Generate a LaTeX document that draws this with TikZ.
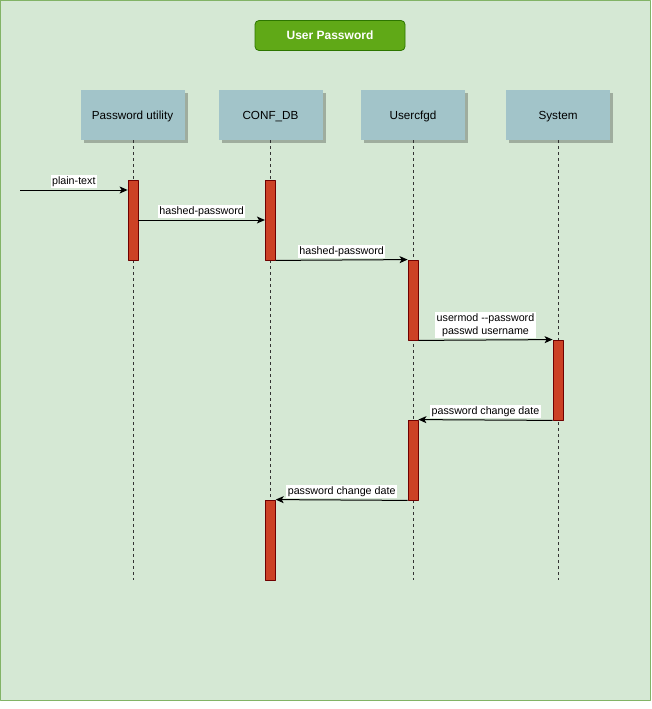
\documentclass[tikz,border=0pt]{standalone}
\usepackage{fontspec}
\setmainfont{Liberation Sans}
\usetikzlibrary{positioning}
\usetikzlibrary{shadows}
\usetikzlibrary{arrows.meta}

\definecolor{bggreen}{HTML}{D5E8D4}
\definecolor{bgborder}{HTML}{82B366}
\definecolor{titlefill}{HTML}{60A917}
\definecolor{titleborder}{HTML}{2D7600}
\definecolor{headfill}{HTML}{A2C4C9}
\definecolor{actfill}{HTML}{CC4125}
\definecolor{actborder}{HTML}{6F0000}

\tikzset{
  titlebox/.style={fill=titlefill, draw=titleborder, line width=0.8pt, rounded corners=4pt,
    minimum width=150pt, minimum height=30pt, inner sep=0pt, text=white,
    font=\fontsize{12}{14}\selectfont\bfseries},
  head/.style={fill=headfill, minimum width=104pt, minimum height=50pt, inner sep=0pt,
    text height=10.2pt, text depth=0.8pt, font=\fontsize{11.7}{14}\selectfont,
    drop shadow={shadow xshift=3pt, shadow yshift=-3pt, fill=black, opacity=0.25}},
  lifeline/.style={dash pattern=on 3pt off 3pt, line width=0.9pt, black!80},
  act/.style={fill=actfill, draw=actborder, line width=0.8pt, minimum width=10pt,
    minimum height=80pt, inner sep=0pt},
  msg/.style={-{Stealth[length=8pt, width=7pt, inset=2pt]}, line width=1pt},
  msglabel/.style={fill=white, inner sep=1.5pt, above=1.5pt, align=center,
    font=\fontsize{10.7}{13}\selectfont}
}

\begin{document}
\begin{tikzpicture}[x=1pt, y=-1pt, line join=round]
  \useasboundingbox (0,0) rectangle (651,709);
  %--- Frame
    \draw[fill=bggreen, draw=bgborder, line width=1pt] (0.5,0.5) rectangle (650,700);
  %--- Title
    \node[titlebox] (title) at (330,35.5) {User Password};
  %--- Heads
    \node[head] (pu) at (132.5,115) {Password utility};
    \node[head] (cdb) at (270.5,115) {CONF\_DB};
    \node[head] (ucf) at (413,115) {Usercfgd};
    \node[head] (sys) at (558,115) {System};
  %--- Lifelines
    \coordinate (puend) at (133,580);
    \coordinate (cdbend) at (270,580);
    \coordinate (ucfend) at (413,580);
    \coordinate (sysend) at (558,580);
    \draw[lifeline] (pu.south -| puend) -- (puend);
    \draw[lifeline] (cdb.south -| cdbend) -- (cdbend);
    \draw[lifeline] (ucf.south -| ucfend) -- (ucfend);
    \draw[lifeline] (sys.south -| sysend) -- (sysend);
  %--- Activations
    \node[act] (pu1) at (133,220) {};
    \node[act] (cdb1) at (270.3,220) {};
    \node[act] (ucf1) at (413,300) {};
    \node[act] (sys1) at (558,380) {};
    \node[act] (ucf2) at (413,460) {};
    \node[act] (cdb2) at (270.3,540) {};
  %--- plain-text
    \coordinate (src) at (20,190);
    \draw[msg] (src) -- node[msglabel] {plain-text} (src -| pu1.west);
  %--- hashed-password
    \draw[msg] (pu1.east) -- node[msglabel] {hashed-password} (cdb1.west);
    \draw[msg] (cdb1.south east) -- node[msglabel] {hashed-password} (ucf1.north west);
  %--- usermod
    \draw[msg] (ucf1.south east) -- node[msglabel] {usermod -{}-password\\passwd username} (sys1.north west);
  %--- password change date
    \draw[msg] (sys1.south west) -- node[msglabel] {password change date} (ucf2.north east);
    \draw[msg] (ucf2.south west) -- node[msglabel] {password change date} (cdb2.north east);
\end{tikzpicture}
\end{document}
